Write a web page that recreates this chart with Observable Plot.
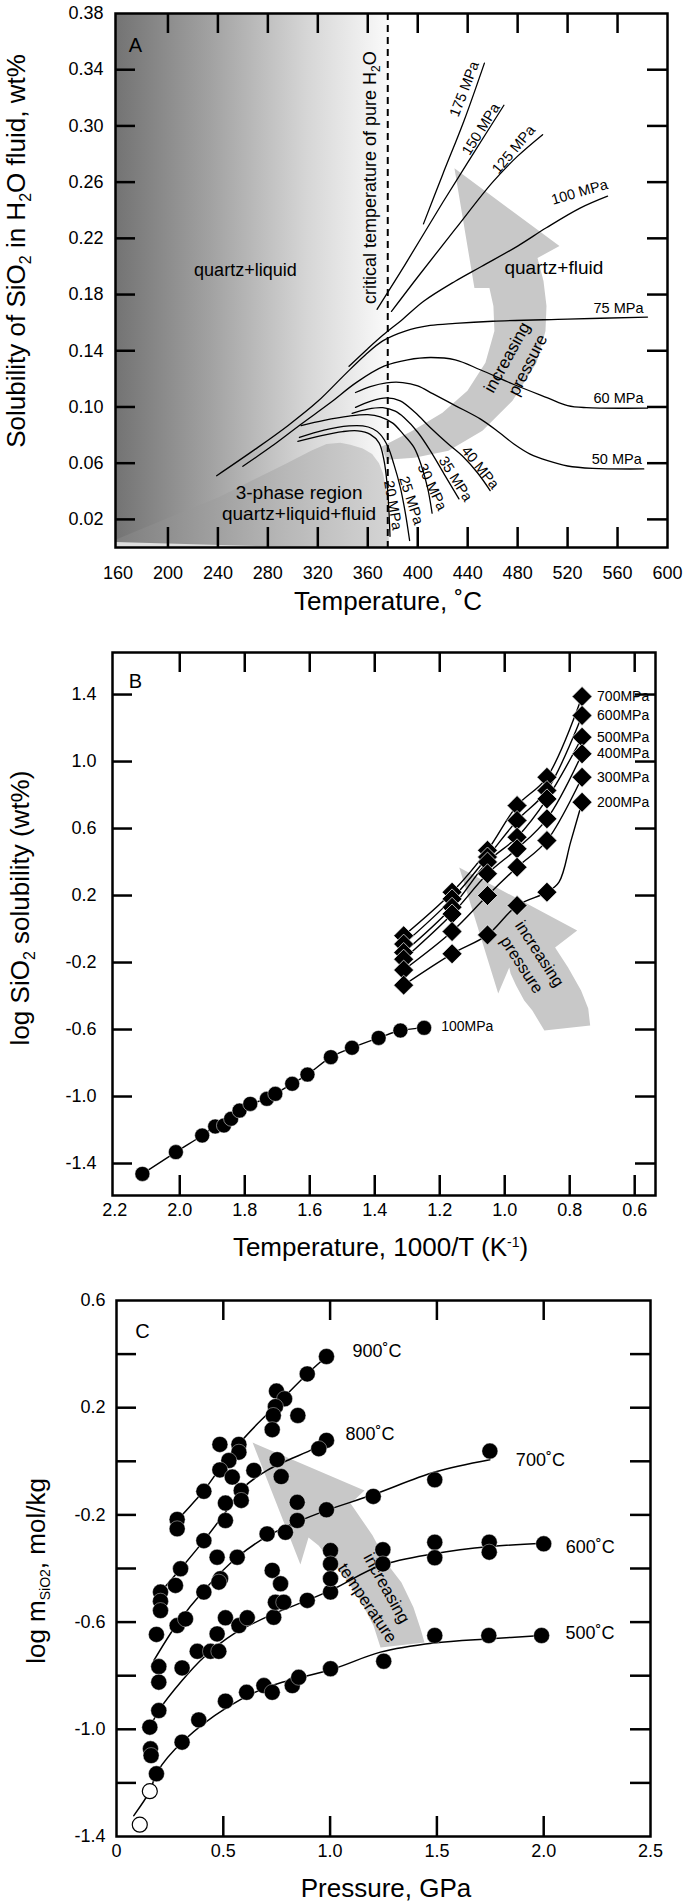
<!DOCTYPE html>
<html>
<head>
<meta charset="utf-8">
<script src="https://cdn.jsdelivr.net/npm/d3@7"></script>
<script src="https://cdn.jsdelivr.net/npm/@observablehq/plot@0.6"></script>
<style>
  html, body { margin: 0; padding: 0; background: #fff; }
  #chart { width: 685px; }
  #chart svg { display: block; }
</style>
</head>
<body>
<div id="chart"></div>
<script>
const FONT = "'Liberation Sans', Arial, Helvetica, sans-serif";

// ================= Panel A data (Temperature °C vs SiO2 wt%) =================
const aTempLabels = [160, 200, 240, 280, 320, 360, 400, 440, 480, 520, 560, 600];
const aTempTicks = [200, 240, 280, 320, 360, 400, 440, 480, 520, 560];
const aSolLabels = [0.02, 0.06, 0.10, 0.14, 0.18, 0.22, 0.26, 0.30, 0.34, 0.38];
const aSolTicks = [0.02, 0.06, 0.10, 0.14, 0.18, 0.22, 0.26, 0.30, 0.34];
const criticalT = [376];
const liquidSpan = [[158, 378]];

const p20 = [[304,0.0755],[322,0.0795],[340,0.0825],[352,0.083],[362,0.0805],[369,0.0745],[373,0.062],[375.5,0.045],[377,0.025],[377.8,0.008]];
const p25 = [[305.3,0.0783],[325,0.0835],[345,0.0865],[356,0.0865],[364,0.0845],[370,0.0805],[376,0.072],[381,0.059],[386,0.043],[390,0.025],[393.5,0.005]];
const p30 = [[306.6,0.0867],[325,0.0905],[345,0.0935],[360,0.0945],[370,0.093],[380,0.0885],[388,0.081],[397,0.0712],[403,0.058],[408,0.042],[411.5,0.0245]];
const p35 = [[347.5,0.0954],[360,0.0985],[372,0.0995],[382,0.097],[389,0.0925],[400,0.082],[410,0.0689],[422,0.051],[433,0.0346]];
const p40 = [[350.2,0.0997],[362,0.104],[375,0.1065],[386,0.1044],[398,0.096],[410,0.0854],[424,0.074],[437,0.0641],[448,0.053],[458,0.0405]];
const p50 = [[350.2,0.1103],[362,0.1145],[375,0.1172],[388,0.1174],[400,0.115],[412,0.1095],[430,0.101],[450,0.0915],[465,0.082],[477,0.0737],[490,0.0665],[504,0.0618],[520,0.058],[540,0.0563],[581,0.0559]];
const p60 = [[260,0.0578],[283,0.072],[306,0.0874],[330,0.103],[351,0.1175],[373,0.129],[392,0.1335],[410,0.1352],[430,0.1335],[450,0.1265],[477,0.116],[504,0.1065],[520,0.101],[535,0.0995],[584,0.0992]];
const p75 = [[239,0.0511],[270,0.070],[296,0.0867],[320,0.104],[341,0.1225],[358,0.137],[372,0.147],[390,0.154],[410,0.158],[430,0.1595],[460,0.161],[520,0.1625],[584,0.164]];
const p100 = [[345,0.129],[360,0.1415],[372,0.151],[388,0.1625],[405,0.1754],[430,0.1895],[451,0.2],[480,0.2145],[503,0.2275],[530,0.2415],[552,0.25]];
const p125 = [[379,0.168],[400,0.1925],[430,0.2265],[460,0.26],[480,0.2785],[500,0.2938]];
const p150 = [[367.4,0.1695],[390,0.2015],[420,0.2455],[445,0.281],[469,0.3147]];
const p175 = [[404.6,0.2303],[420,0.2655],[437,0.3035],[453.4,0.3447]];
const isoNames = ["20","25","30","35","40","50","60","75","100","125","150","175"];
const isoSeries = [p20,p25,p30,p35,p40,p50,p60,p75,p100,p125,p150,p175];

const threePhase = [[158,0.0055],[200,0.021],[241,0.036],[294,0.0595],[315,0.069],[327,0.0737],[338,0.0745],[346,0.0732],[356,0.0705],[363.5,0.0666],[369,0.060],[372.3,0.0524],[374.5,0.043],[375.8,0.0334],[376.6,0.018],[376.9,0],[311,0],[158,0.004]];
const threePhaseFoot = [[158,0.004],[311,0],[158,0]];
const pressureArrowA = [[375.0,0.0625],[397.4,0.0639],[424.6,0.0689],[451.8,0.0831],[475.9,0.1044],[495.1,0.1314],[502.3,0.1541],[503.1,0.1719],[500.7,0.1896],[495.9,0.2060],[513.5,0.2145],[429.4,0.2699],[445.4,0.1847],[457.4,0.1847],[460.6,0.1719],[461.4,0.1541],[454.2,0.1314],[439.8,0.1115],[419.8,0.0959],[395.8,0.0831],[371.0,0.0717]];

// ================= Panel B data (1000/T vs log SiO2 wt%) =================
const bXLabels = [2.2, 2.0, 1.8, 1.6, 1.4, 1.2, 1.0, 0.8, 0.6];
const bXTicks = [2.0, 1.8, 1.6, 1.4, 1.2, 1.0, 0.8, 0.6];
const bYLabels = [1.4, 1.0, 0.6, 0.2, -0.2, -0.6, -1.0, -1.4];
const bInvT = [1.311, 1.162, 1.053, 0.962, 0.870, 0.762];
const b700 = [-0.04, 0.22, 0.47, 0.737, 0.906, 1.388];
const b600 = [-0.09, 0.18, 0.43, 0.648, 0.827, 1.275];
const b500 = [-0.14, 0.13, 0.40, 0.548, 0.777, 1.145];
const b400 = [-0.18, 0.09, 0.33, 0.479, 0.658, 1.046];
const b300 = [-0.245, -0.015, 0.20, 0.369, 0.528, 0.906];
const b200 = [-0.335, -0.148, -0.035, 0.14, 0.22, 0.757];
const b200Bend = [[0.833, 0.28], [0.797, 0.52]];
const bNames = ["700MPa","600MPa","500MPa","400MPa","300MPa","200MPa"];
const bSeries = [b700, b600, b500, b400, b300, b200];
const b100 = [[2.115,-1.462],[2.012,-1.332],[1.931,-1.233],[1.891,-1.179],[1.864,-1.173],[1.842,-1.133],[1.816,-1.084],[1.783,-1.044],[1.732,-1.014],[1.706,-0.984],[1.654,-0.924],[1.607,-0.869],[1.535,-0.765],[1.470,-0.709],[1.388,-0.650],[1.321,-0.606],[1.248,-0.590]];
const pressureArrowB = [[1.140,0.367],[0.777,-0.009],[0.845,-0.110],[0.805,-0.230],[0.765,-0.367],[0.743,-0.475],[0.737,-0.576],[0.878,-0.606],[0.915,-0.487],[0.940,-0.427],[0.965,-0.337],[0.982,-0.266],[0.986,-0.230],[1.020,-0.385]];

// ================= Panel C data (Pressure GPa vs log m SiO2) =================
const cXLabels = [0, 0.5, 1.0, 1.5, 2.0, 2.5];
const cXTicks = [0.5, 1.0, 1.5, 2.0];
const cYLabels = [0.6, 0.2, -0.2, -0.6, -1.0, -1.4];
const cYTicks = [0.4, 0.2, 0, -0.2, -0.4, -0.6, -0.8, -1.0, -1.2];
const cMeasured = [
  [0.983,0.391],[0.893,0.326],[0.749,0.262],[0.787,0.233],[0.744,0.204],[0.734,0.171],[0.849,0.171],[0.729,0.118],
  [0.484,0.063],[0.573,0.063],[0.573,0.034],[0.526,0.003],[0.484,-0.032],[0.542,-0.059],[0.409,-0.112],[0.284,-0.217],[0.284,-0.252],
  [0.983,0.078],[0.947,0.047],[0.752,0.006],[0.643,-0.034],[0.771,-0.057],[0.584,-0.109],[0.584,-0.146],[0.510,-0.156],[0.510,-0.221],[0.409,-0.296],[0.300,-0.401],[0.276,-0.463],[0.206,-0.488],
  [1.748,0.038],[1.490,-0.069],[1.202,-0.131],[0.983,-0.181],[0.846,-0.153],[0.846,-0.221],[0.791,-0.265],[0.705,-0.271],[0.565,-0.358],[0.471,-0.358],[0.487,-0.438],[0.409,-0.488],[0.729,-0.407],[0.768,-0.457],
  [0.206,-0.522],[0.206,-0.557],[0.187,-0.646],[0.284,-0.613],[0.323,-0.588],[0.479,-0.451],
  [0.198,-0.766],[0.198,-0.824],[0.307,-0.771],[0.378,-0.709],[0.440,-0.709],[0.479,-0.709],[0.471,-0.644],[0.510,-0.584],[0.573,-0.613],[0.612,-0.584],[0.736,-0.582],[0.744,-0.526],[0.783,-0.526],[0.893,-0.519],[1.002,-0.488],
  [1.002,-0.333],[1.002,-0.383],[1.002,-0.438],[1.247,-0.330],[1.247,-0.383],[1.490,-0.302],[1.490,-0.360],[1.745,-0.302],[1.745,-0.339],[2.0,-0.308],
  [0.198,-0.930],[0.156,-0.992],[0.159,-1.073],[0.162,-1.098],[0.187,-1.166],[0.307,-1.048],[0.385,-0.965],[0.510,-0.895],[0.609,-0.862],[0.690,-0.837],[0.729,-0.862],[0.823,-0.837],[0.853,-0.806],[1.002,-0.774],[1.251,-0.746],[1.490,-0.650],[1.743,-0.650],[1.990,-0.650]
];
const cOpen = [[0.109,-1.356],[0.156,-1.231]];
const c900 = [[0.284,-0.22],[0.35,-0.163],[0.409,-0.109],[0.49,-0.02],[0.573,0.065],[0.66,0.14],[0.737,0.2],[0.82,0.268],[0.893,0.326],[0.983,0.391]];
const c800 = [[0.206,-0.488],[0.300,-0.401],[0.409,-0.296],[0.510,-0.19],[0.596,-0.097],[0.705,-0.034],[0.799,0.003],[0.924,0.047],[0.983,0.078]];
const c700 = [[0.175,-0.743],[0.284,-0.606],[0.409,-0.482],[0.565,-0.358],[0.705,-0.28],[0.85,-0.225],[0.98,-0.184],[1.2,-0.125],[1.49,-0.04],[1.748,0.006]];
const c600 = [[0.159,-0.99],[0.198,-0.93],[0.307,-0.818],[0.409,-0.731],[0.549,-0.644],[0.736,-0.569],[0.893,-0.519],[1.017,-0.476],[1.236,-0.389],[1.486,-0.345],[1.751,-0.318],[2.0,-0.306]];
const c500 = [[0.081,-1.322],[0.156,-1.231],[0.19,-1.16],[0.315,-1.042],[0.518,-0.918],[0.705,-0.843],[1.017,-0.774],[1.236,-0.712],[1.486,-0.678],[1.751,-0.662],[1.99,-0.65]];
const cNames = ["900˚C","800˚C","700˚C","600˚C","500˚C"];
const cSeries = [c900, c800, c700, c600, c500];
const temperatureArrowC = [[0.637,0.070],[1.161,-0.109],[1.096,-0.157],[1.199,-0.277],[1.273,-0.389],[1.334,-0.452],[1.390,-0.545],[1.423,-0.624],[1.442,-0.676],[1.236,-0.695],[1.203,-0.613],[1.142,-0.519],[1.072,-0.437],[1.002,-0.370],[0.946,-0.314],[0.899,-0.284],[0.861,-0.385]];

// ================= helpers =================
const GRAY = "#c8c8c8";
const lastOf = a => a[a.length - 1];
const px = d => d[0], py = d => d[1];

function frameTicks(xt, yt, fw, fh, len = 20) {
  const o = {stroke: "black", strokeWidth: 2.5};
  return [
    Plot.ruleX(xt, {x: d => d, insetTop: fh - len, ...o}),
    Plot.ruleX(xt, {x: d => d, insetBottom: fh - len, ...o}),
    Plot.ruleY(yt, {y: d => d, insetRight: fw - len, ...o}),
    Plot.ruleY(yt, {y: d => d, insetLeft: fw - len, ...o})
  ];
}
function endLabel(arr, text, o) {
  return Plot.text([lastOf(arr)], {x: px, y: py, text: () => text, fill: "black", ...o});
}
function richText(svg, x, y, parts, {size = 26, rotate = 0, anchor = "middle"} = {}) {
  const t = d3.select(svg).append("text")
    .attr("transform", `translate(${x},${y}) rotate(${rotate})`)
    .attr("text-anchor", anchor)
    .attr("font-family", FONT)
    .attr("font-size", size)
    .attr("fill", "black")
    .attr("dy", "0.35em");
  for (const p of parts) {
    const s = t.append("tspan").text(p.t);
    if (p.size) s.attr("font-size", p.size);
    if (p.dy) s.attr("dy", p.dy);
  }
  return t;
}
function addGradient(svg, id, stops) {
  const defs = d3.select(svg).insert("defs", ":first-child");
  const g = defs.append("linearGradient").attr("id", id)
    .attr("x1", "0").attr("y1", "0").attr("x2", "1").attr("y2", "0");
  for (const [o, c] of stops) g.append("stop").attr("offset", o).attr("stop-color", c);
}
const root = document.getElementById("chart");

// ================= Panel A =================
{
  const W = 685, H = 620, mL = 115, mR = 18, mT = 13, mB = 73;
  const fw = W - mL - mR, fh = H - mT - mB;
  const isoRows = isoSeries.flatMap((a, i) => a.map(([t, v]) => ({p: isoNames[i], t, v})));
  const lab = {fontSize: 14.5};
  const chart = Plot.plot({
    width: W, height: H, marginLeft: mL, marginRight: mR, marginTop: mT, marginBottom: mB,
    x: {domain: [158, 600]},
    y: {domain: [0, 0.38]},
    style: {fontFamily: FONT, fontSize: "18px", background: "white", color: "black"},
    marks: [
      Plot.rect(liquidSpan, {x1: d => d[0], x2: d => d[1], y1: () => 0, y2: () => 0.38, fill: "url(#gradLiquid)"}),
      Plot.line(threePhase, {x: px, y: py, fill: "url(#gradThree)", stroke: "none", curve: "linear-closed"}),
      Plot.line(threePhaseFoot, {x: px, y: py, fill: "#dedede", stroke: "none", curve: "linear-closed"}),
      Plot.line(pressureArrowA, {x: px, y: py, fill: GRAY, stroke: "none", curve: "linear-closed"}),
      Plot.ruleX(criticalT, {x: d => d, stroke: "black", strokeWidth: 2, strokeDasharray: "7,5"}),
      Plot.line(isoRows, {x: "t", y: "v", z: "p", curve: "catmull-rom", stroke: "black", strokeWidth: 1.3}),
      endLabel(p175, "175 MPa", {...lab, dx: -20, dy: 26, rotate: -69}),
      endLabel(p150, "150 MPa", {...lab, dx: -23, dy: 24, rotate: -58}),
      endLabel(p125, "125 MPa", {...lab, dx: -29, dy: 15, rotate: -50}),
      endLabel(p100, "100 MPa", {...lab, dx: -28, dy: -4, rotate: -16}),
      endLabel(p75, "75 MPa", {...lab, dx: -4, dy: -9, textAnchor: "end"}),
      endLabel(p60, "60 MPa", {...lab, dx: -4, dy: -10, textAnchor: "end"}),
      endLabel(p50, "50 MPa", {...lab, dx: -2, dy: -10, textAnchor: "end"}),
      endLabel(p40, "40 MPa", {...lab, dx: -10, dy: -23, rotate: 51}),
      endLabel(p35, "35 MPa", {...lab, dx: -3.5, dy: -20, rotate: 58}),
      endLabel(p30, "30 MPa", {...lab, dx: 0, dy: -26, rotate: 65}),
      endLabel(p25, "25 MPa", {...lab, dx: 1.5, dy: -40, rotate: 72}),
      endLabel(p20, "20 MPa", {...lab, dx: 3, dy: -31, rotate: 80}),
      Plot.text(["quartz+liquid"], {x: () => 262, y: () => 0.197, text: d => d, fontSize: 18}),
      Plot.text(["quartz+fluid"], {x: () => 509, y: () => 0.199, text: d => d, fontSize: 19}),
      Plot.text(["3-phase region"], {x: () => 305, y: () => 0.0386, text: d => d, fontSize: 19}),
      Plot.text(["quartz+liquid+fluid"], {x: () => 305, y: () => 0.0239, text: d => d, fontSize: 19}),
      Plot.text(["increasing"], {x: () => 471.6, y: () => 0.1352, text: d => d, fontSize: 17, rotate: -61}),
      Plot.text(["pressure"], {x: () => 488.2, y: () => 0.1299, text: d => d, fontSize: 17, rotate: -63}),
      Plot.text(["A"], {frameAnchor: "top-left", dx: 20, dy: 24, text: d => d, fontSize: 20, textAnchor: "middle"}),
      Plot.frame({stroke: "black", strokeWidth: 2.5}),
      ...frameTicks(aTempTicks, aSolTicks, fw, fh),
      Plot.axisX({ticks: aTempLabels, anchor: "bottom", tickSize: 0, tickPadding: 19, tickFormat: d => String(d), label: null, fontSize: 18}),
      Plot.axisY({ticks: aSolLabels, anchor: "left", tickSize: 0, tickPadding: 12, tickFormat: d => d.toFixed(2), label: null, fontSize: 18})
    ]
  });
  addGradient(chart, "gradLiquid", [["0", "#737373"], ["0.35", "#a2a2a2"], ["0.7", "#d6d6d6"], ["1", "#fbfbfb"]]);
  addGradient(chart, "gradThree", [["0", "#7e7e7e"], ["0.6", "#b6b6b6"], ["1", "#d4d4d4"]]);
  const sx = chart.scale("x"), sy = chart.scale("y");
  richText(chart, sx.apply(criticalT[0]) - 18, sy.apply(0.2628), [
    {t: "critical temperature of pure H"}, {t: "2", size: 12, dy: 4}, {t: "O", dy: -4}
  ], {size: 18, rotate: -90});
  richText(chart, (mL + W - mR) / 2 - 3, 601, [{t: "Temperature, ˚C"}], {size: 26});
  richText(chart, 16, 251, [
    {t: "Solubility of SiO"}, {t: "2", size: 16, dy: 6}, {t: " in H", dy: -6}, {t: "2", size: 16, dy: 6}, {t: "O fluid, wt%", dy: -6}
  ], {size: 26, rotate: -90});
  root.appendChild(chart);
}

// ================= Panel B =================
{
  const W = 685, H = 650, mL = 112, mR = 30, mT = 32, mB = 75;
  const fw = W - mL - mR, fh = H - mT - mB;
  const dRows = bSeries.flatMap((a, i) => a.map((v, j) => ({p: bNames[i], x: bInvT[j], y: v})));
  const lRows = bSeries.flatMap((a, i) => {
    const pts = a.map((v, j) => [bInvT[j], v]);
    if (bNames[i] === "200MPa") pts.push(...b200Bend);
    pts.sort((m, n) => n[0] - m[0]);
    return pts.map(([x, y]) => ({p: bNames[i], x, y}));
  });
  const lastDia = bSeries.map((a, i) => ({p: bNames[i], x: bInvT[bInvT.length - 1], y: a[a.length - 1]}));
  const chart = Plot.plot({
    width: W, height: H, marginLeft: mL, marginRight: mR, marginTop: mT, marginBottom: mB,
    x: {domain: [2.207, 0.536]},
    y: {domain: [-1.591, 1.651]},
    style: {fontFamily: FONT, fontSize: "18px", background: "white", color: "black"},
    marks: [
      Plot.line(pressureArrowB, {x: px, y: py, fill: GRAY, stroke: "none", curve: "linear-closed"}),
      Plot.text(["increasing"], {x: () => 0.893, y: () => -0.148, text: d => d, fontSize: 16.5, rotate: 57}),
      Plot.text(["pressure"], {x: () => 0.948, y: () => -0.214, text: d => d, fontSize: 16.5, rotate: 57}),
      Plot.line(lRows, {x: "x", y: "y", z: "p", curve: "catmull-rom", stroke: "black", strokeWidth: 1.4}),
      Plot.line(b100, {x: px, y: py, curve: "catmull-rom", stroke: "black", strokeWidth: 1.4}),
      Plot.dot(dRows, {x: "x", y: "y", symbol: "diamond2", r: 9, fill: "black", stroke: "white", strokeWidth: 0.7}),
      Plot.dot(b100, {x: px, y: py, r: 7.5, fill: "black", stroke: "white", strokeWidth: 0.5}),
      Plot.text(lastDia, {x: "x", y: "y", text: "p", dx: 15, textAnchor: "start", fontSize: 14}),
      endLabel(b100, "100MPa", {dx: 17, dy: -1.5, textAnchor: "start", fontSize: 14}),
      Plot.text(["B"], {frameAnchor: "top-left", dx: 23, dy: 21, text: d => d, fontSize: 20, textAnchor: "middle"}),
      Plot.frame({stroke: "black", strokeWidth: 2.5}),
      ...frameTicks(bXTicks, bYLabels, fw, fh),
      Plot.axisX({ticks: bXLabels, anchor: "bottom", tickSize: 0, tickPadding: 8, tickFormat: d => d.toFixed(1), label: null, fontSize: 18}),
      Plot.axisY({ticks: bYLabels, anchor: "left", tickSize: 0, tickPadding: 16, tickFormat: d => d.toFixed(1), label: null, fontSize: 18})
    ]
  });
  richText(chart, (mL + W - mR) / 2 - 3, 627, [
    {t: "Temperature, 1000/T (K"}, {t: "-1", size: 14, dy: -9}, {t: ")", dy: 9}
  ], {size: 26});
  richText(chart, 20, 288, [
    {t: "log SiO"}, {t: "2", size: 16, dy: 6}, {t: " solubility (wt%)", dy: -6}
  ], {size: 26, rotate: -90});
  root.appendChild(chart);
}

// ================= Panel C =================
{
  const W = 685, H = 634, mL = 116, mR = 35, mT = 30, mB = 68;
  const fw = W - mL - mR, fh = H - mT - mB;
  const fitRows = cSeries.flatMap((a, i) => a.map(([x, y]) => ({t: cNames[i], x, y})));
  const lab = {textAnchor: "start", fontSize: 18};
  const chart = Plot.plot({
    width: W, height: H, marginLeft: mL, marginRight: mR, marginTop: mT, marginBottom: mB,
    x: {domain: [0, 2.5]},
    y: {domain: [-1.4, 0.6]},
    style: {fontFamily: FONT, fontSize: "18px", background: "white", color: "black"},
    marks: [
      Plot.line(temperatureArrowC, {x: px, y: py, fill: GRAY, stroke: "none", curve: "linear-closed"}),
      Plot.text(["increasing"], {x: () => 1.264, y: () => -0.474, text: d => d, fontSize: 17, rotate: 61}),
      Plot.text(["temperature"], {x: () => 1.174, y: () => -0.529, text: d => d, fontSize: 17, rotate: 56}),
      Plot.line(fitRows, {x: "x", y: "y", z: "t", curve: "catmull-rom", stroke: "black", strokeWidth: 1.5}),
      Plot.dot(cMeasured, {x: px, y: py, r: 8, fill: "black", stroke: "white", strokeWidth: 0.4}),
      Plot.dot(cOpen, {x: px, y: py, r: 7.5, fill: "white", stroke: "black", strokeWidth: 1.2}),
      endLabel(c900, "900˚C", {...lab, dx: 26, dy: -5}),
      endLabel(c800, "800˚C", {...lab, dx: 19, dy: -6}),
      endLabel(c700, "700˚C", {...lab, dx: 26, dy: 1}),
      endLabel(c600, "600˚C", {...lab, dx: 22, dy: 4}),
      endLabel(c500, "500˚C", {...lab, dx: 24, dy: -2.5}),
      Plot.text(["C"], {frameAnchor: "top-left", dx: 26, dy: 23, text: d => d, fontSize: 20, textAnchor: "middle"}),
      Plot.frame({stroke: "black", strokeWidth: 2.5}),
      ...frameTicks(cXTicks, cYTicks, fw, fh),
      Plot.axisX({ticks: cXLabels, anchor: "bottom", tickSize: 0, tickPadding: 8, tickFormat: d => d === 0 ? "0" : d.toFixed(1), label: null, fontSize: 18}),
      Plot.axisY({ticks: cYLabels, anchor: "left", tickSize: 0, tickPadding: 11, tickFormat: d => d.toFixed(1), label: null, fontSize: 18})
    ]
  });
  richText(chart, (mL + W - mR) / 2 + 3, 618, [{t: "Pressure, GPa"}], {size: 26});
  richText(chart, 36, 301, [
    {t: "log m"}, {t: "SiO2", size: 14, dy: 5}, {t: ", mol/kg", dy: -5}
  ], {size: 26, rotate: -90});
  root.appendChild(chart);
}
</script>
</body>
</html>
